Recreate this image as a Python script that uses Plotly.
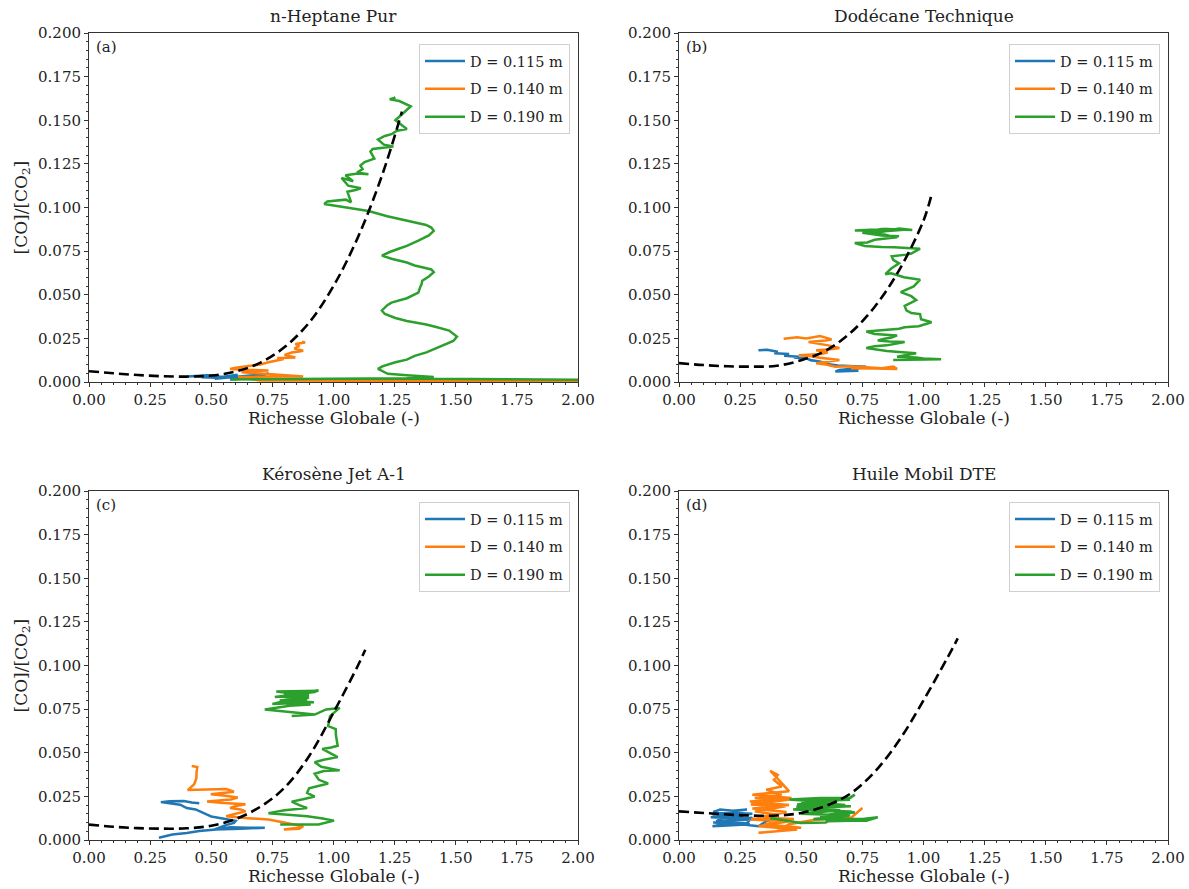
import plotly.graph_objects as go

# ---------------- data ----------------
titles = ["n-Heptane Pur", "Dodécane Technique", "Kérosène Jet A-1", "Huile Mobil DTE"]
labels = ["(a)", "(b)", "(c)", "(d)"]
series_names = ["D = 0.115 m", "D = 0.140 m", "D = 0.190 m"]
colors = ["#1f77b4", "#ff7f0e", "#2ca02c"]
x_ticks = [0.0, 0.25, 0.5, 0.75, 1.0, 1.25, 1.5, 1.75, 2.0]
y_ticks = [0.0, 0.025, 0.05, 0.075, 0.1, 0.125, 0.15, 0.175, 0.2]

# (a) n-Heptane
a_blue_x = [0.404, 0.45, 0.483, 0.52, 0.546, 0.50, 0.46, 0.52, 0.58, 0.608, 0.56, 0.514, 0.55, 0.62, 0.70, 0.734, 0.68, 0.656, 0.60, 0.577, 0.63, 0.69, 0.72]
a_blue_y = [0.0032, 0.0036, 0.0038, 0.0033, 0.0028, 0.0030, 0.0027, 0.0025, 0.0035, 0.0041, 0.0024, 0.0019, 0.0022, 0.0030, 0.0042, 0.0047, 0.0030, 0.0023, 0.0020, 0.0015, 0.0020, 0.0018, 0.0016]
a_orange_x = [2.0, 1.8, 1.4, 1.0, 0.88, 0.7, 0.61, 0.70, 0.79, 0.876, 0.80, 0.70, 0.624, 0.66, 0.734, 0.64, 0.577, 0.60, 0.656, 0.70, 0.734, 0.76, 0.797, 0.77, 0.844, 0.80, 0.829, 0.86, 0.876, 0.84, 0.86, 0.844, 0.884, 0.87]
a_orange_y = [0.0005, 0.0005, 0.0005, 0.0006, 0.0006, 0.0008, 0.0028, 0.0031, 0.0032, 0.0032, 0.0040, 0.0047, 0.0056, 0.0062, 0.0066, 0.0070, 0.0075, 0.0082, 0.0094, 0.0100, 0.0113, 0.0120, 0.0132, 0.0138, 0.0141, 0.0155, 0.0169, 0.0175, 0.0179, 0.0192, 0.0207, 0.0218, 0.0226, 0.0231]
a_green_x = [2.0, 1.7, 1.4, 1.0, 0.8, 0.58, 0.8, 1.05, 1.3, 1.41,
             1.37, 1.30, 1.222, 1.182, 1.20, 1.253, 1.30, 1.332, 1.38, 1.442,
             1.49, 1.505, 1.473, 1.42, 1.379, 1.30, 1.253, 1.21, 1.198, 1.22,
             1.237, 1.30, 1.33, 1.347, 1.355, 1.36, 1.363, 1.39, 1.41, 1.40,
             1.38, 1.332, 1.30, 1.237, 1.198, 1.215, 1.23, 1.269, 1.30, 1.347,
             1.39, 1.41, 1.40, 1.379, 1.30, 1.22, 1.143, 1.08, 1.017, 0.962,
             0.975, 1.002, 1.05, 1.072, 1.057, 1.09, 1.112, 1.06, 1.033, 1.08,
             1.049, 1.10, 1.143, 1.096, 1.119, 1.11, 1.127, 1.167, 1.151, 1.16,
             1.19, 1.245, 1.206, 1.182, 1.21, 1.237, 1.26, 1.30, 1.253, 1.27,
             1.285, 1.316, 1.269, 1.230, 1.253, 1.24]
a_green_y = [0.0013, 0.0017, 0.0019, 0.0019, 0.0017, 0.0015, 0.0018, 0.0020, 0.0022, 0.0028,
             0.0033, 0.0038, 0.0047, 0.0075, 0.0090, 0.0113, 0.0128, 0.0150, 0.0170, 0.0207,
             0.0235, 0.0260, 0.0295, 0.0315, 0.0330, 0.0350, 0.0367, 0.0390, 0.0410, 0.0440,
             0.0455, 0.0480, 0.0500, 0.0512, 0.0545, 0.0560, 0.0580, 0.0605, 0.0630, 0.0645,
             0.0652, 0.0668, 0.0685, 0.0706, 0.0724, 0.0735, 0.0745, 0.0765, 0.0780, 0.0810,
             0.0840, 0.0866, 0.0885, 0.0900, 0.0925, 0.0950, 0.0980, 0.0995, 0.1010, 0.1020,
             0.1035, 0.1040, 0.1045, 0.1030, 0.1090, 0.1100, 0.1110, 0.1125, 0.1170, 0.1150,
             0.1185, 0.1195, 0.1190, 0.1200, 0.1220, 0.1240, 0.1260, 0.1280, 0.1320, 0.1335,
             0.1340, 0.1350, 0.1360, 0.1390, 0.1410, 0.1420, 0.1440, 0.1450, 0.1500, 0.1520,
             0.1540, 0.1580, 0.1610, 0.1620, 0.1630, 0.1620]
a_fit_x = [0.0, 0.1, 0.2, 0.3, 0.4, 0.5, 0.6, 0.7, 0.8, 0.9, 1.0, 1.1, 1.2, 1.28]
a_fit_y = [0.0062, 0.0050, 0.0040, 0.0033, 0.0031, 0.0037, 0.0060, 0.0110, 0.0200, 0.0340, 0.0550, 0.0830, 0.1190, 0.1550]

# (b) Dodecane
b_blue_x = [0.325, 0.36, 0.404, 0.39, 0.45, 0.43, 0.49, 0.47, 0.52, 0.546, 0.53, 0.58, 0.608, 0.59, 0.65, 0.703, 0.766, 0.74, 0.70, 0.656, 0.64, 0.70, 0.734]
b_blue_y = [0.0182, 0.0185, 0.0173, 0.0165, 0.0160, 0.0150, 0.0145, 0.0140, 0.0135, 0.0122, 0.0128, 0.0116, 0.0101, 0.0106, 0.0095, 0.0092, 0.0088, 0.0080, 0.0074, 0.0069, 0.0060, 0.0062, 0.0064]
b_orange_x = [0.428, 0.483, 0.52, 0.577, 0.624, 0.60, 0.53, 0.577, 0.61, 0.656, 0.62, 0.561, 0.608, 0.58, 0.49, 0.54, 0.577, 0.656, 0.62, 0.561, 0.60, 0.64, 0.70, 0.734, 0.78, 0.829, 0.876, 0.892, 0.80, 0.703]
b_orange_y = [0.0248, 0.0257, 0.0250, 0.0263, 0.0244, 0.0238, 0.0229, 0.0220, 0.0210, 0.0195, 0.0188, 0.0182, 0.0169, 0.0160, 0.0154, 0.0148, 0.0139, 0.0126, 0.0118, 0.0107, 0.0100, 0.0088, 0.0090, 0.0088, 0.0082, 0.0079, 0.0088, 0.0075, 0.0078, 0.0079]
b_green_x = [0.876, 0.95, 1.072, 1.0, 0.97, 0.892, 0.93, 0.97, 0.90, 0.85,
             0.766, 0.80, 0.85, 0.923, 0.86, 0.813, 0.84, 0.87, 0.892, 0.84,
             0.80, 0.766, 0.80, 0.85, 0.90, 0.923, 0.98, 1.033, 0.99, 0.986,
             0.95, 0.93, 0.923, 0.95, 0.97, 0.95, 0.907, 0.93, 0.96, 0.986,
             0.95, 0.92, 0.868, 0.844, 0.868, 0.90, 0.876, 0.87, 0.93, 0.95,
             0.986, 0.93, 0.88, 0.829, 0.80, 0.76, 0.719, 0.77, 0.80, 0.892,
             0.86, 0.84, 0.78, 0.75, 0.80, 0.88, 0.92, 0.85, 0.76, 0.719,
             0.80, 0.829, 0.954, 0.90, 0.85, 0.78, 0.83, 0.90]
b_green_y = [0.0126, 0.0128, 0.0131, 0.0135, 0.0140, 0.0145, 0.0155, 0.0165, 0.0172, 0.0178,
             0.0195, 0.0205, 0.0210, 0.0229, 0.0232, 0.0238, 0.0248, 0.0255, 0.0267, 0.0270,
             0.0275, 0.0289, 0.0293, 0.0296, 0.0305, 0.0314, 0.0320, 0.0342, 0.0360, 0.0389,
             0.0395, 0.0410, 0.0436, 0.0455, 0.0470, 0.0492, 0.0515, 0.0530, 0.0548, 0.0586,
             0.0595, 0.0600, 0.0623, 0.0618, 0.0650, 0.0680, 0.0700, 0.0720, 0.0730, 0.0736,
             0.0764, 0.0770, 0.0772, 0.0774, 0.0778, 0.0780, 0.0796, 0.0800, 0.0815, 0.0830,
             0.0838, 0.0845, 0.0849, 0.0855, 0.0860, 0.0868, 0.0872, 0.0877, 0.0872, 0.0868,
             0.0870, 0.0877, 0.0871, 0.0880, 0.0865, 0.0850, 0.0840, 0.0835]
b_fit_x = [0.0, 0.1, 0.2, 0.3, 0.4, 0.5, 0.6, 0.7, 0.8, 0.9, 1.0, 1.035]
b_fit_y = [0.0108, 0.0097, 0.0090, 0.0088, 0.0093, 0.0125, 0.0180, 0.0280, 0.0430, 0.0640, 0.0925, 0.1085]

# (c) Kerosene
c_blue_x = [0.286, 0.341, 0.40, 0.451, 0.52, 0.577, 0.65, 0.719, 0.62, 0.514, 0.56, 0.593, 0.60, 0.53, 0.50, 0.483, 0.436, 0.40, 0.373, 0.294, 0.33, 0.388, 0.42, 0.451]
c_blue_y = [0.0013, 0.0032, 0.0040, 0.0051, 0.0060, 0.0073, 0.0070, 0.0070, 0.0065, 0.0060, 0.0085, 0.0098, 0.0110, 0.0126, 0.0135, 0.0145, 0.0175, 0.0183, 0.0202, 0.0217, 0.0222, 0.0224, 0.0215, 0.0211]
c_orange_x = [0.42, 0.443, 0.44, 0.439, 0.43, 0.404, 0.48, 0.561, 0.593, 0.498, 0.55, 0.608, 0.58, 0.483, 0.55, 0.64, 0.60, 0.577, 0.62, 0.64, 0.60, 0.561, 0.65, 0.734, 0.829, 0.876, 0.86, 0.797, 0.83, 0.86]
c_orange_y = [0.0424, 0.0418, 0.0390, 0.0352, 0.0320, 0.0286, 0.0290, 0.0292, 0.0277, 0.0262, 0.0255, 0.0243, 0.0232, 0.0220, 0.0212, 0.0205, 0.0195, 0.0183, 0.0175, 0.0164, 0.0150, 0.0136, 0.0125, 0.0117, 0.0092, 0.0079, 0.0065, 0.0060, 0.0066, 0.0070]
c_green_x = [0.782, 0.86, 0.939, 1.002, 0.95, 0.892, 0.80, 0.734, 0.80, 0.892, 0.86, 0.829, 0.88, 0.923, 0.892, 0.90, 0.978, 0.94, 0.923, 0.96, 1.025, 0.95, 0.923, 0.96, 1.017, 0.98, 0.954, 0.99, 1.017, 1.01, 1.009, 0.978, 0.986, 1.025, 0.97, 0.923, 0.829, 0.923, 0.719, 0.82, 0.907, 0.766, 0.892, 0.797, 0.939, 0.766, 0.83, 0.80, 0.90, 0.78, 0.92, 0.75, 0.90, 0.76, 0.93, 0.80]
c_green_y = [0.0089, 0.0090, 0.0089, 0.0111, 0.0125, 0.0136, 0.0145, 0.0154, 0.0170, 0.0183, 0.0200, 0.0220, 0.0235, 0.0249, 0.0270, 0.0296, 0.0324, 0.0345, 0.0380, 0.0395, 0.0399, 0.0420, 0.0446, 0.0460, 0.0475, 0.0500, 0.0522, 0.0530, 0.0540, 0.0600, 0.0635, 0.0653, 0.0710, 0.0757, 0.0748, 0.0719, 0.0710, 0.0719, 0.0748, 0.0770, 0.0776, 0.0785, 0.0804, 0.0832, 0.0855, 0.0851, 0.0840, 0.0820, 0.0815, 0.0800, 0.0790, 0.0780, 0.0830, 0.0820, 0.0850, 0.0840]
c_fit_x = [0.0, 0.1, 0.2, 0.3, 0.4, 0.5, 0.6, 0.7, 0.8, 0.9, 1.0, 1.1, 1.13]
c_fit_y = [0.0088, 0.0076, 0.0068, 0.0065, 0.0067, 0.0082, 0.0120, 0.0190, 0.0300, 0.0480, 0.0730, 0.1000, 0.1090]

# (d) Huile Mobil DTE
d_blue_x = [0.16, 0.29, 0.14, 0.31, 0.13, 0.30, 0.14, 0.168, 0.22, 0.278, 0.20, 0.137, 0.25, 0.263, 0.18, 0.153, 0.231, 0.30, 0.278, 0.20, 0.137, 0.22, 0.263, 0.325, 0.36, 0.40, 0.44]
d_blue_y = [0.0080, 0.0090, 0.0100, 0.0120, 0.0130, 0.0150, 0.0160, 0.0175, 0.0168, 0.0175, 0.0160, 0.0147, 0.0140, 0.0136, 0.0130, 0.0107, 0.0120, 0.0128, 0.0098, 0.0095, 0.0079, 0.0085, 0.0089, 0.0079, 0.0110, 0.0120, 0.0115]
d_orange_x = [0.50, 0.35, 0.47, 0.33, 0.44, 0.30, 0.45, 0.29, 0.46, 0.30, 0.45, 0.373, 0.404, 0.388, 0.42, 0.357, 0.42, 0.31, 0.451, 0.294, 0.436, 0.31, 0.404, 0.294, 0.451, 0.325, 0.483, 0.325, 0.40, 0.45, 0.55, 0.62, 0.703, 0.75]
d_orange_y = [0.0070, 0.0090, 0.0120, 0.0130, 0.0160, 0.0180, 0.0200, 0.0220, 0.0240, 0.0260, 0.0280, 0.0397, 0.0373, 0.0345, 0.0307, 0.0288, 0.0260, 0.0241, 0.0232, 0.0203, 0.0194, 0.0164, 0.0145, 0.0117, 0.0107, 0.0079, 0.0060, 0.0041, 0.0050, 0.0090, 0.0115, 0.0120, 0.0126, 0.0183]
d_green_x = [0.373, 0.498, 0.60, 0.608, 0.70, 0.766, 0.813, 0.734, 0.66, 0.577, 0.64, 0.719, 0.70, 0.467, 0.55, 0.703, 0.60, 0.483, 0.55, 0.687, 0.719, 0.70, 0.577, 0.451, 0.52, 0.62, 0.70, 0.50, 0.68, 0.48, 0.66, 0.50, 0.70, 0.55, 0.78, 0.60, 0.80]
d_green_y = [0.0126, 0.0098, 0.0100, 0.0107, 0.0110, 0.0111, 0.0130, 0.0117, 0.0125, 0.0136, 0.0150, 0.0157, 0.0164, 0.0175, 0.0185, 0.0194, 0.0200, 0.0203, 0.0215, 0.0232, 0.0260, 0.0240, 0.0241, 0.0232, 0.0225, 0.0230, 0.0230, 0.0220, 0.0200, 0.0190, 0.0170, 0.0150, 0.0140, 0.0120, 0.0120, 0.0110, 0.0125]
d_fit_x = [0.0, 0.1, 0.2, 0.3, 0.4, 0.5, 0.6, 0.7, 0.8, 0.9, 1.0, 1.1, 1.14]
d_fit_y = [0.0164, 0.0155, 0.0146, 0.0140, 0.0140, 0.0155, 0.0195, 0.0265, 0.0390, 0.0570, 0.0800, 0.1050, 0.1155]

panel_data = [
    ([a_blue_x, a_orange_x, a_green_x], [a_blue_y, a_orange_y, a_green_y], a_fit_x, a_fit_y),
    ([b_blue_x, b_orange_x, b_green_x], [b_blue_y, b_orange_y, b_green_y], b_fit_x, b_fit_y),
    ([c_blue_x, c_orange_x, c_green_x], [c_blue_y, c_orange_y, c_green_y], c_fit_x, c_fit_y),
    ([d_blue_x, d_orange_x, d_green_x], [d_blue_y, d_orange_y, d_green_y], d_fit_x, d_fit_y),
]

# ---------------- layout ----------------
W, H = 1189, 889
FONT = "DejaVu Serif"
px_left = [89, 679, 89, 679]
px_right = [578, 1168, 578, 1168]
px_top = [33, 33, 491, 491]
px_bot = [382, 382, 840, 840]

fig = go.Figure()
layout = dict(
    width=W, height=H, margin=dict(l=0, r=0, t=0, b=0, autoexpand=False),
    paper_bgcolor="white", plot_bgcolor="white",
    font=dict(family=FONT, color="#222", size=15),
    showlegend=True,
)
annotations = []
for i in range(4):
    sfx = "" if i == 0 else str(i + 1)
    xa, ya = "x" + sfx, "y" + sfx
    leg = "legend" if i == 0 else "legend" + str(i + 1)
    xs_list, ys_list, fx, fy = panel_data[i]
    for k in range(3):
        n = min(len(xs_list[k]), len(ys_list[k]))
        fig.add_trace(go.Scatter(
            x=xs_list[k][:n], y=ys_list[k][:n], mode="lines", name=series_names[k],
            line=dict(color=colors[k], width=2.5), xaxis=xa, yaxis=ya,
            legend=leg, legendgroup="g%d_%d" % (i, k), showlegend=True))
    fig.add_trace(go.Scatter(
        x=fx, y=fy, mode="lines", line=dict(color="black", width=2.6, dash="10px,5px", shape="spline"),
        xaxis=xa, yaxis=ya, showlegend=False, legend=leg))

    x0, x1 = px_left[i] / W, px_right[i] / W
    y0, y1 = 1 - px_bot[i] / H, 1 - px_top[i] / H
    common = dict(showline=True, linecolor="#333", linewidth=1, mirror=True,
                  ticks="outside", ticklen=4, tickcolor="#333", showgrid=False,
                  zeroline=False, automargin=False,
                  tickfont=dict(family=FONT, size=15, color="#222"))
    layout["xaxis" + sfx] = dict(domain=[x0, x1], range=[0, 2], anchor=ya,
                                 tickvals=x_ticks, ticktext=["%.2f" % v for v in x_ticks],
                                 minor=dict(dtick=0.05, tick0=0, ticks="outside", ticklen=2, tickcolor="#333"),
                                 **common)
    layout["yaxis" + sfx] = dict(domain=[y0, y1], range=[0, 0.2], anchor=xa,
                                 tickvals=y_ticks, ticktext=["%.3f" % v for v in y_ticks],
                                 minor=dict(dtick=0.005, tick0=0, ticks="outside", ticklen=2, tickcolor="#333"),
                                 **common)
    layout[leg] = dict(x=(px_right[i] - 8) / W, y=1 - (px_top[i] + 11) / H,
                       xanchor="right", yanchor="top", bgcolor="rgba(255,255,255,0.85)",
                       bordercolor="#d0d0d0", borderwidth=1,
                       font=dict(family=FONT, size=14.5, color="#222"),
                       itemwidth=40, tracegroupgap=6)
    xc = (px_left[i] + px_right[i]) / 2 / W
    annotations.append(dict(text=titles[i], x=xc, y=1 - (px_top[i] - 5) / H, xref="paper", yref="paper",
                            xanchor="center", yanchor="bottom", showarrow=False,
                            font=dict(family=FONT, size=17, color="#222")))
    annotations.append(dict(text="Richesse Globale (-)", x=xc, y=1 - (px_bot[i] + 24) / H,
                            xref="paper", yref="paper", xanchor="center", yanchor="top",
                            showarrow=False, font=dict(family=FONT, size=17, color="#222")))
    annotations.append(dict(text=labels[i], x=(px_left[i] + 5) / W, y=1 - (px_top[i] + 3) / H,
                            xref="paper", yref="paper", xanchor="left", yanchor="top",
                            showarrow=False, font=dict(family=FONT, size=15, color="#222")))
    if i in (0, 2):
        annotations.append(dict(text="[CO]/[CO<sub>2</sub>]", x=22 / W,
                                y=1 - (px_top[i] + px_bot[i]) / 2 / H, xref="paper", yref="paper",
                                xanchor="center", yanchor="middle", textangle=-90, showarrow=False,
                                font=dict(family=FONT, size=17, color="#222")))
layout["annotations"] = annotations
fig.update_layout(**layout)
fig.write_html("out.html", config={"displayModeBar": False},
               post_script="document.body.style.margin='0px';document.body.style.overflow='hidden';")
